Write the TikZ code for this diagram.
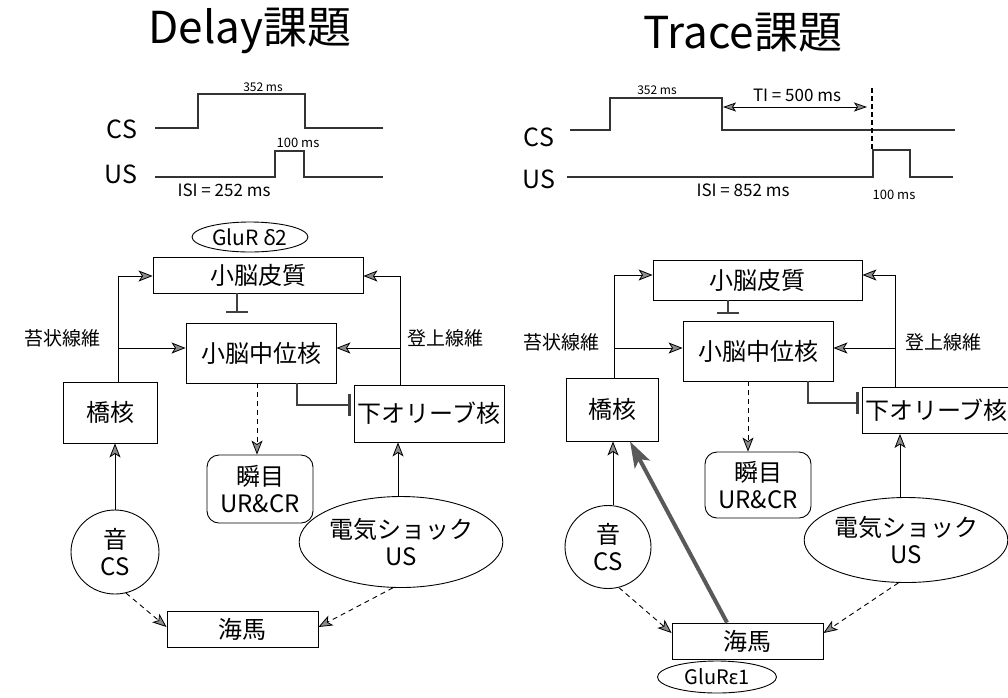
\documentclass[tikz,border=0pt]{standalone}
\usepackage{fontspec}
\setmainfont{Noto Sans CJK JP}
\newfontfamily\grk{Noto Sans}
\usetikzlibrary{arrows.meta,shapes.geometric}
\begin{document}
\begin{tikzpicture}[x=1pt,y=-1pt,
  box/.style={draw, line width=0.9pt, inner sep=0pt, align=center, font=\fontsize{24}{27}\selectfont},
  rbox/.style={box, rounded corners=12pt},
  ell/.style={box, ellipse},
  lbl/.style={inner sep=0pt, font=\fontsize{19}{22}\selectfont},
  wlbl/.style={inner sep=0pt, font=\fontsize{25}{28}\selectfont},
  small/.style={inner sep=0pt, font=\fontsize{12}{14}\selectfont},
  mid/.style={inner sep=0pt, font=\fontsize{17}{20}\selectfont},
  ttl/.style={inner sep=0pt, font=\fontsize{44}{50}\selectfont},
  wave/.style={line width=2.4pt, draw=black!80, line join=miter},
  tip/.style={Stealth[length=14pt,width=11pt,inset=3.5pt,fill=black!45,line width=0.8pt]},
  arr/.style={line width=0.9pt, -{Stealth[length=14pt,width=11pt,inset=3.5pt,fill=black!45,line width=0.8pt]}},
  dsh/.style={arr, dash pattern=on 5pt off 4pt},
  inh/.style={line width=2.4pt, draw=black!75, -{Bar[width=22pt,line width=2.4pt]}},
  thk/.style={line width=4pt, draw=black!65, -{Stealth[length=26pt,width=17pt,inset=6pt,fill=black!60]}}
]
\useasboundingbox (0,0) rectangle (1008,697);

% ---------- titles ----------
\node[ttl] (tD) at (250,31) {Delay課題};
\node[ttl] (tT) at (743,33) {Trace課題};

% ---------- left waveforms ----------
\node[wlbl] (csL) at (122,129) {CS};
\node[wlbl] (usL) at (121,174) {US};
\draw[wave] (155,128) -- (198,128) -- (198,94) -- (305,94) -- (305,128) -- (383,128);
\draw[wave] (155,177) -- (275,177) -- (275,151) -- (304,151) -- (304,177) -- (383,177);
\node[small] (d352) at (263,87) {352 ms};
\node[small, font=\fontsize{13}{15}\selectfont] (d100) at (298,143) {100 ms};
\node[mid] (disi) at (224,190) {ISI = 252 ms};

% ---------- right waveforms ----------
\node[wlbl] (csR) at (539,137) {CS};
\node[wlbl] (usR) at (539,179) {US};
\draw[wave] (570,130) -- (610,130) -- (610,98) -- (722,98) -- (722,130) -- (955,130);
\draw[wave] (567,177) -- (873,177) -- (873,150) -- (910,150) -- (910,177) -- (953,177);
\draw[line width=1.2pt, dash pattern=on 5pt off 3pt] (872,88) -- (872,150);
\coordinate (tiA) at (723,107);
\coordinate (tiB) at (867,107);
\draw[line width=0.9pt, {Stealth[length=13pt,width=9pt,inset=3pt,fill=black!45,line width=0.8pt]}-{Stealth[length=13pt,width=9pt,inset=3pt,fill=black!45,line width=0.8pt]}] (tiA) -- (tiB);
\node[small] (t352) at (657,90) {352 ms};
\node[mid] (tti) at (797,95) {TI = 500 ms};
\node[mid] (tisi) at (743,190) {ISI = 852 ms};
\node[small, font=\fontsize{13}{15}\selectfont] (t100) at (894,195) {100 ms};

% ---------- left diagram ----------
\node[box, minimum width=210pt, minimum height=36pt] (cortexL) at (258,275) {小脳皮質};
\node[ell, minimum width=116pt, minimum height=30pt, font=\fontsize{21}{24}\selectfont] (glurL) at (250,237) {GluR {\grk δ}2};
\node[box, minimum width=150pt, minimum height=60pt] (nucL) at (261,353) {小脳中位核};
\node[box, minimum width=94pt, minimum height=61pt] (ponsL) at (110,412.5) {橋核};
\node[box, minimum width=150pt, minimum height=57pt] (ioL) at (429,413.5) {下オリーブ核};
\node[rbox, minimum width=106pt, minimum height=68pt] (blinkL) at (260,489) {瞬目\\UR\&CR};
\node[ell, minimum width=88pt, minimum height=84pt] (toneL) at (115,552) {音\\CS};
\node[ell, minimum width=154pt, minimum height=91pt] (shockL) at (401,542) {電気ショック\\US};
\node[box, minimum width=151pt, minimum height=36pt] (hippL) at (242.5,629) {海馬};
\node[lbl] (mossyL) at (62,338) {苔状線維};
\node[lbl] (climbL) at (445,338) {登上線維};

\coordinate (mtL) at (118,276);
\coordinate (mbL) at (118,348);
\coordinate (ctL) at (400,276);
\coordinate (cbL) at (400,348);
\draw[arr] (ponsL.north -| mtL) -- (mtL) -- (cortexL.west |- mtL);
\draw[arr] (mbL) -- (nucL.west |- mbL);
\draw[arr] (ioL.north -| ctL) -- (ctL) -- (cortexL.east |- ctL);
\draw[arr] (cbL) -- (nucL.east |- cbL);
\coordinate (tL) at (237,313);
\draw[inh] (cortexL.south -| tL) -- (tL);
\coordinate (iL) at (297,405);
\draw[inh, shorten >=3pt] (nucL.south -| iL) -- (iL) -- (ioL.west |- iL);
\draw[dsh] (nucL.south -| 257,0) -- (blinkL.north -| 257,0);
\draw[arr] (toneL.north) -- (ponsL.south -| toneL.north);
\draw[arr] (shockL.north -| 398,0) -- (ioL.south -| 398,0);
\draw[dsh] (toneL.-75) -- ([yshift=2pt]hippL.west);
\draw[dsh] (shockL.-100) -- ([yshift=2pt]hippL.east);

% ---------- right diagram ----------
\node[box, minimum width=209pt, minimum height=40pt] (cortexR) at (757.5,280) {小脳皮質};
\node[box, minimum width=150pt, minimum height=60pt] (nucR) at (758,351) {小脳中位核};
\node[box, minimum width=92pt, minimum height=63pt] (ponsR) at (612,409.5) {橋核};
\node[box, minimum width=150pt, minimum height=46pt, text width=146pt, align=left] (ioR) at (937,410.5) {\hspace{1pt}下オリーブ核};
\node[rbox, minimum width=106pt, minimum height=66pt] (blinkR) at (758,485) {瞬目\\UR\&CR};
\node[ell, minimum width=86pt, minimum height=83pt] (toneR) at (608,547) {音\\CS};
\node[ell, minimum width=165pt, minimum height=85pt] (shockR) at (906,540) {電気ショック\\US};
\node[box, minimum width=151pt, minimum height=36pt] (hippR) at (747.5,641) {海馬};
\node[ell, minimum width=119pt, minimum height=32pt, font=\fontsize{20}{23}\selectfont] (glurR) at (717,677) {GluR{\grk ε}1};
\node[lbl] (mossyR) at (561,342) {苔状線維};
\node[lbl] (climbR) at (943,342) {登上線維};

\coordinate (mtR) at (614,275);
\coordinate (mbR) at (614,348);
\coordinate (ctR) at (895,275);
\coordinate (cbR) at (895,348);
\draw[arr] (ponsR.north -| mtR) -- (mtR) -- (cortexR.west |- mtR);
\draw[arr] (mbR) -- (nucR.west |- mbR);
\draw[arr] (ioR.north -| ctR) -- (ctR) -- (cortexR.east |- ctR);
\draw[arr] (cbR) -- (nucR.east |- cbR);
\coordinate (tR) at (728,314);
\draw[inh] (cortexR.south -| tR) -- (tR);
\coordinate (iR) at (808,403);
\draw[inh, shorten >=3pt] (nucR.south -| iR) -- (iR) -- (ioR.west |- iR);
\draw[dsh] (nucR.south -| 748,0) -- (blinkR.north -| 748,0);
\draw[arr] (toneR.north -| 613,0) -- (ponsR.south -| 613,0);
\draw[arr] (shockR.north -| 900,0) -- (ioR.south -| 900,0);
\draw[thk] (hippR.north -| 727,0) -- (ponsR.south -| 630,0);
\draw[dsh] (toneR.-75) -- ([yshift=8pt]hippR.west);
\draw[dsh] (shockR.-100) -- ([yshift=8pt]hippR.east);
\end{tikzpicture}
\end{document}
